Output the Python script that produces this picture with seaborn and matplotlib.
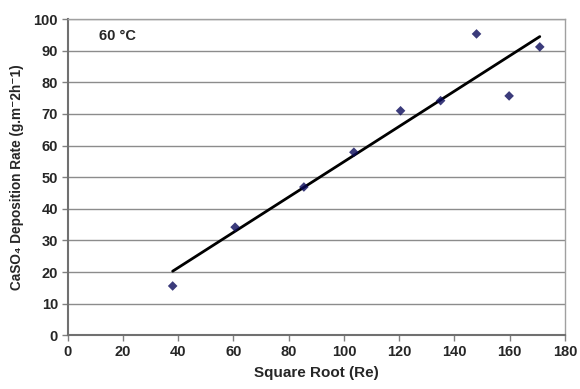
import matplotlib
matplotlib.use("Agg")
import matplotlib.pyplot as plt
import seaborn as sns
import pandas as pd

sqrt_re = [38, 60.6, 85.5, 103.6, 120.5, 135.0, 148.0, 159.8, 170.9]
deposition = [15.6, 34.2, 46.9, 57.9, 71.0, 74.2, 95.3, 75.7, 91.2]
x_ticks = [0, 20, 40, 60, 80, 100, 120, 140, 160, 180]
y_ticks = [0, 10, 20, 30, 40, 50, 60, 70, 80, 90, 100]

df = pd.DataFrame({"x": sqrt_re, "y": deposition})

sns.set_theme(style="white")
plt.rcParams["font.family"] = ["Liberation Sans", "DejaVu Sans"]
plt.rcParams["font.weight"] = "bold"

fig = plt.figure(figsize=(5.8, 3.89), dpi=100)
ax = fig.add_axes([0.1167, 0.138, 0.974 - 0.1167, 0.951 - 0.138])

for yv in y_ticks[1:]:
    ax.axhline(yv, color="#8c8c8c", lw=1.0, zorder=0)

sns.regplot(data=df, x="x", y="y", ax=ax, ci=None, truncate=True, marker="D",
            scatter_kws=dict(s=24, color="#0a0a5a", edgecolor="none", zorder=3),
            line_kws=dict(color="black", lw=2, zorder=2))

ax.set_xlim(0, 180)
ax.set_ylim(0, 100)
ax.set_xticks(x_ticks)
ax.set_yticks(y_ticks)
ax.tick_params(axis="both", labelsize=10.5, length=4, width=1, color="#808080",
               direction="out", bottom=True, left=True, pad=3)
for lab in ax.get_xticklabels() + ax.get_yticklabels():
    lab.set_fontweight("bold")

for s in ["left", "bottom"]:
    ax.spines[s].set_color("#707070")
    ax.spines[s].set_linewidth(1.5)
for s in ["top", "right"]:
    ax.spines[s].set_color("#a0a0a0")
    ax.spines[s].set_linewidth(1.0)

ax.set_xlabel("Square Root (Re)", fontsize=11, fontweight="bold", labelpad=5)
ax.set_ylabel("CaSO\u2084 Deposition Rate (g.m\u207b2h\u207b1)", fontsize=9.8,
              fontweight="bold", labelpad=7)

ax.text(18.2, 94.6, "60 \u00b0C", fontsize=10.5, fontweight="bold", ha="center", va="center")

fig.savefig("out.png", dpi=100)
